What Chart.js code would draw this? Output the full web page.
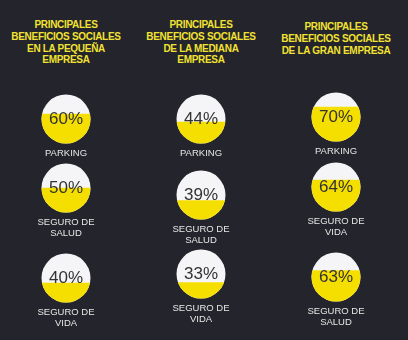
<!DOCTYPE html>
<html>
<head>
<meta charset="utf-8">
<script src="https://cdn.jsdelivr.net/npm/chart.js@4.4.1/dist/chart.umd.min.js"></script>
<style>
  html, body { margin: 0; padding: 0; }
  body {
    width: 408px; height: 340px; overflow: hidden;
    background: #24242c; position: relative;
    font-family: "Liberation Sans", Arial, sans-serif;
  }
  .title {
    position: absolute; width: 136px; text-align: center;
    color: #f2e232; font-weight: bold; font-size: 10px;
    letter-spacing: -0.3px; line-height: 11.8px;
  }
  .cell { position: absolute; width: 50px; height: 50px; }
  .cell canvas { position: absolute; left: 0; top: 0; }
  .pct {
    position: absolute; left: 0; top: 0; width: 50px; height: 50px;
    line-height: 50px; text-align: center; font-size: 17px; color: #333;
  }
  .lbl {
    position: absolute; width: 100px; text-align: center;
    color: #e6e6e6; font-size: 9.5px; line-height: 10.5px;
  }
</style>
</head>
<body>
<script>
// data
const titleLines = [
  ["PRINCIPALES", "BENEFICIOS SOCIALES", "EN LA PEQUEÑA", "EMPRESA"],
  ["PRINCIPALES", "BENEFICIOS SOCIALES", "DE LA MEDIANA", "EMPRESA"],
  ["PRINCIPALES", "BENEFICIOS SOCIALES", "DE LA GRAN  EMPRESA"]
]
const smallCats = ["PARKING", "SEGURO DE SALUD", "SEGURO DE VIDA"]
const smallVals = [60, 50, 40]
const medCats = ["PARKING", "SEGURO DE SALUD", "SEGURO DE VIDA"]
const medVals = [44, 39, 33]
const bigCats = ["PARKING", "SEGURO DE VIDA", "SEGURO DE SALUD"]
const bigVals = [70, 64, 63]

// layout
const colX = [66, 201, 336]
const titleTop = [19, 19, 21]
const rowY = [[119, 188, 278], [119, 195, 274], [117, 187, 277]]
const R = 25

const cats = [smallCats, medCats, bigCats]
const vals = [smallVals, medVals, bigVals]

const circlePlugin = {
  id: "circle",
  beforeDraw(chart) {
    const ctx = chart.ctx
    const a = chart.chartArea
    ctx.save()
    ctx.beginPath()
    ctx.arc((a.left + a.right) / 2, (a.top + a.bottom) / 2, R - 0.5, 0, Math.PI * 2)
    ctx.fillStyle = "#f5f5f7"
    ctx.fill()
    ctx.restore()
  },
  beforeDatasetsDraw(chart) {
    const ctx = chart.ctx
    const a = chart.chartArea
    ctx.save()
    ctx.beginPath()
    ctx.arc((a.left + a.right) / 2, (a.top + a.bottom) / 2, R - 0.5, 0, Math.PI * 2)
    ctx.clip()
  },
  afterDatasetsDraw(chart) {
    chart.ctx.restore()
  }
}

for (let c = 0; c < 3; c++) {
  const t = document.createElement("div")
  t.className = "title"
  t.style.left = (colX[c] - 68) + "px"
  t.style.top = titleTop[c] + "px"
  t.innerHTML = titleLines[c].join("<br>")
  document.body.appendChild(t)

  for (let r = 0; r < 3; r++) {
    const cell = document.createElement("div")
    cell.className = "cell"
    cell.style.left = (colX[c] - R) + "px"
    cell.style.top = (rowY[c][r] - R) + "px"
    const cv = document.createElement("canvas")
    cv.width = 50
    cv.height = 50
    cell.appendChild(cv)
    const p = document.createElement("div")
    p.className = "pct"
    p.textContent = vals[c][r] + "%"
    cell.appendChild(p)
    document.body.appendChild(cell)

    new Chart(cv.getContext("2d"), {
      type: "bar",
      data: {
        labels: [cats[c][r]],
        datasets: [{
          data: [vals[c][r]],
          backgroundColor: "#f5df00",
          borderWidth: 0,
          barPercentage: 1,
          categoryPercentage: 1
        }]
      },
      options: {
        responsive: false,
        animation: false,
        layout: { padding: 0 },
        plugins: { legend: { display: false }, tooltip: { enabled: false } },
        scales: {
          x: { display: false },
          y: { display: false, min: 0, max: 100 }
        }
      },
      plugins: [circlePlugin]
    })

    const l = document.createElement("div")
    l.className = "lbl"
    l.style.left = (colX[c] - 50) + "px"
    l.style.top = (rowY[c][r] + R + 4) + "px"
    const words = cats[c][r]
    l.innerHTML = words.startsWith("SEGURO DE ") ? "SEGURO DE<br>" + words.slice(10) : words
    document.body.appendChild(l)
  }
}
</script>
</body>
</html>
